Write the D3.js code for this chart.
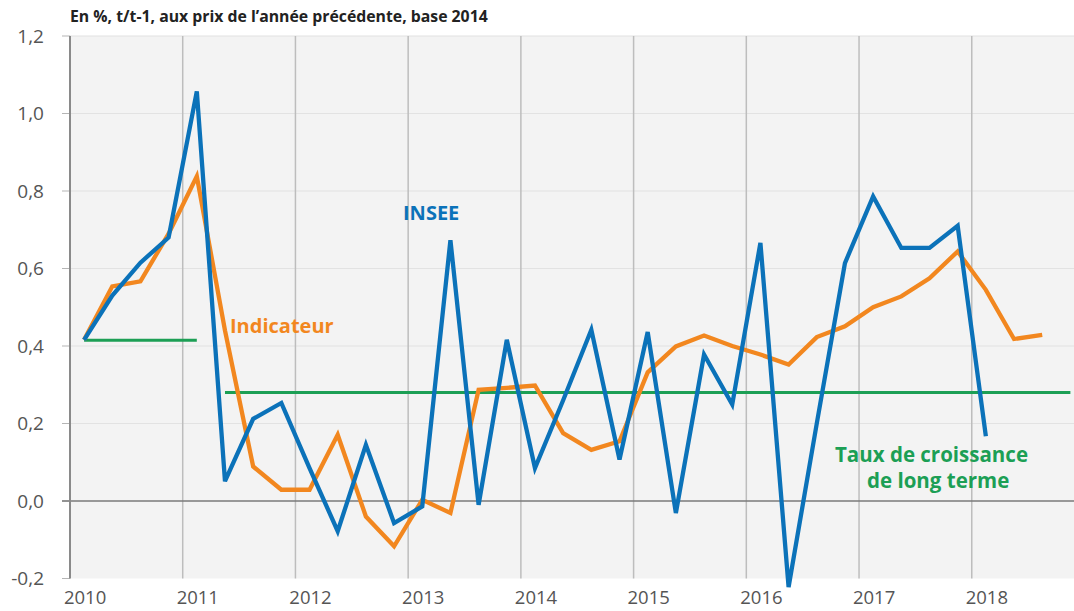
<!DOCTYPE html>
<html>
<head>
<meta charset="utf-8">
<script src="https://cdn.jsdelivr.net/npm/d3@7"></script>
<style>
  html, body { margin: 0; padding: 0; background: #ffffff; }
  svg { display: block; }
  text { font-family: "Open Sans", "Noto Sans", sans-serif; }
</style>
</head>
<body>
<svg id="chart" width="1074" height="611"></svg>
<script>
// ---- data (quarterly, from 2010Q1) ----
const yearLabels = ["2010", "2011", "2012", "2013", "2014", "2015", "2016", "2017", "2018"];
const yTicks = [-0.2, 0, 0.2, 0.4, 0.6, 0.8, 1.0, 1.2];

const insee = [0.416, 0.53, 0.615, 0.68, 1.057, 0.051, 0.212, 0.253, 0.085, -0.078,
  0.145, -0.057, -0.014, 0.673, -0.01, 0.416, 0.085, 0.26, 0.442, 0.107,
  0.436, -0.031, 0.378, 0.249, 0.666, -0.222, 0.2, 0.614, 0.786, 0.653,
  0.653, 0.71, 0.167];

const indicateur = [0.416, 0.554, 0.567, 0.69, 0.838, 0.44, 0.089, 0.029, 0.029, 0.171,
  -0.04, -0.117, 0.003, -0.031, 0.287, 0.292, 0.298, 0.175, 0.132, 0.154,
  0.332, 0.399, 0.427, 0.40, 0.378, 0.352, 0.423, 0.451, 0.50, 0.528,
  0.575, 0.644, 0.545, 0.418, 0.429];

// long-term growth rate segments (quarter index start/end, rate)
const longTermStart = [0, 5];
const longTermEnd = [4, 35];
const longTermRate = [0.415, 0.28];

const title = "En %, t/t-1, aux prix de l\u2019ann\u00e9e pr\u00e9c\u00e9dente, base 2014";

// ---- layout ----
const svg = d3.select("#chart");
const plotLeft = 70, plotRight = 1074, plotTop = 36, plotBottom = 578.5;
const qWidth = 28.18;

const x = d3.scaleLinear().domain([0, 36]).range([plotLeft, plotLeft + 36 * qWidth]);
const y = d3.scaleLinear().domain([-0.2, 1.2]).range([plotBottom, plotTop]);
const xp = i => x(i + 0.5);   // point position of quarter i

const cBlue = "#0b72b9", cOrange = "#f2871f", cGreen = "#1c9f55";

// background
svg.append("rect")
  .attr("x", plotLeft).attr("y", plotTop)
  .attr("width", plotRight - plotLeft).attr("height", plotBottom - plotTop)
  .attr("fill", "#f3f3f3");

// horizontal gridlines
svg.append("g").selectAll("line").data(yTicks.filter(d => d !== 0 && d !== -0.2)).join("line")
  .attr("x1", plotLeft).attr("x2", plotRight)
  .attr("y1", d => y(d)).attr("y2", d => y(d))
  .attr("stroke", "#e2e2e2").attr("stroke-width", 1.2);

// y ticks (short marks left of axis)
svg.append("g").selectAll("line").data(yTicks).join("line")
  .attr("x1", plotLeft - 8).attr("x2", plotLeft)
  .attr("y1", d => y(d)).attr("y2", d => y(d))
  .attr("stroke", "#b5b5b5").attr("stroke-width", 1);

// vertical year gridlines
svg.append("g").selectAll("line").data(yearLabels.slice(1)).join("line")
  .attr("x1", (d, i) => x((i + 1) * 4)).attr("x2", (d, i) => x((i + 1) * 4))
  .attr("y1", plotTop).attr("y2", plotBottom)
  .attr("stroke", "#bdbdbd").attr("stroke-width", 1.5);

// zero line
svg.append("line")
  .attr("x1", plotLeft - 8).attr("x2", plotRight)
  .attr("y1", y(0)).attr("y2", y(0))
  .attr("stroke", "#7a7a7a").attr("stroke-width", 1.5);

// left axis line
svg.append("line")
  .attr("x1", plotLeft).attr("x2", plotLeft)
  .attr("y1", plotTop).attr("y2", plotBottom)
  .attr("stroke", "#8a8a8a").attr("stroke-width", 2);

// y labels
const fmt = d => d3.format(".1f")(d).replace(".", ",").replace("\u2212", "-");
svg.append("g").selectAll("text").data(yTicks).join("text")
  .attr("x", 44).attr("y", d => y(d))
  .attr("dy", "0.36em")
  .attr("text-anchor", "end")
  .attr("font-size", 19).attr("fill", "#555")
  .text(d => fmt(d));

// x labels (centred on Q1 of each year)
svg.append("g").selectAll("text").data(yearLabels).join("text")
  .attr("x", (d, i) => xp(i * 4) + 1).attr("y", 604)
  .attr("text-anchor", "middle")
  .attr("font-size", 18.5).attr("fill", "#555")
  .text(d => d);

// title
svg.append("text")
  .attr("x", 70).attr("y", 22)
  .attr("font-size", 15.8).attr("font-weight", "bold").attr("fill", "#222")
  .text(title);

// long-term growth segments
svg.append("g").selectAll("line").data(longTermRate).join("line")
  .attr("x1", (d, i) => xp(longTermStart[i])).attr("x2", (d, i) => xp(longTermEnd[i]))
  .attr("y1", d => y(d)).attr("y2", d => y(d))
  .attr("stroke", cGreen).attr("stroke-width", 3);

const line = d3.line().x((d, i) => xp(i)).y(d => y(d));

svg.append("path").datum(indicateur)
  .attr("d", line).attr("fill", "none")
  .attr("stroke", cOrange).attr("stroke-width", 4.3).attr("stroke-linejoin", "miter");

svg.append("path").datum(insee)
  .attr("d", line).attr("fill", "none")
  .attr("stroke", cBlue).attr("stroke-width", 4.3).attr("stroke-linejoin", "miter");

// series labels
svg.append("text").attr("x", 403).attr("y", 220)
  .attr("font-size", 20).attr("font-weight", "bold").attr("fill", cBlue).text("INSEE");
svg.append("text").attr("x", 230).attr("y", 333)
  .attr("font-size", 20).attr("font-weight", "bold").attr("fill", cOrange).text("Indicateur");
svg.append("text").attr("x", 835).attr("y", 462)
  .attr("font-size", 20.5).attr("font-weight", "bold").attr("fill", cGreen).text("Taux de croissance");
svg.append("text").attr("x", 867).attr("y", 488)
  .attr("font-size", 20.5).attr("font-weight", "bold").attr("fill", cGreen).text("de long terme");
</script>
</body>
</html>
